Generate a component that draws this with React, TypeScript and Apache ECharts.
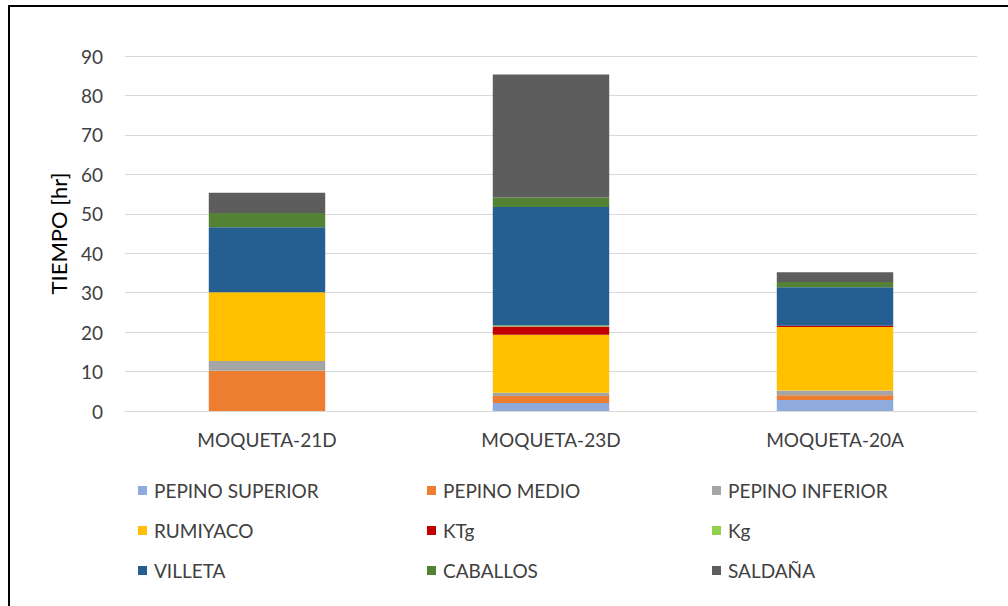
import React, { useEffect, useRef } from "react";
import * as echarts from "echarts";

const categories = ["MOQUETA-21D", "MOQUETA-23D", "MOQUETA-20A"];
const seriesNames = [
  "PEPINO SUPERIOR",
  "PEPINO MEDIO",
  "PEPINO INFERIOR",
  "RUMIYACO",
  "KTg",
  "Kg",
  "VILLETA",
  "CABALLOS",
  "SALDAÑA",
];
const pepinoSuperior = [0, 2.0, 2.8];
const pepinoMedio = [10.2, 1.8, 1.2];
const pepinoInferior = [2.5, 0.8, 1.2];
const rumiyaco = [17.4, 14.7, 16.1];
const ktg = [0, 2.1, 0.3];
const kg = [0, 0.3, 0];
const villeta = [16.5, 30.0, 9.8];
const caballos = [3.6, 2.4, 1.3];
const saldana = [5.1, 31.2, 2.5];
const seriesValues = [pepinoSuperior, pepinoMedio, pepinoInferior, rumiyaco, ktg, kg, villeta, caballos, saldana];
const colors = ["#8faadc", "#ed7d31", "#a5a5a5", "#ffc000", "#c00000", "#92d050", "#255e91", "#548235", "#5d5d5d"];
const yTicks = { min: 0, max: 90, interval: 10 };
const legendColumns = [
  ["PEPINO SUPERIOR", "RUMIYACO", "VILLETA"],
  ["PEPINO MEDIO", "KTg", "CABALLOS"],
  ["PEPINO INFERIOR", "Kg", "SALDAÑA"],
];

const FONT = "Lato, 'Open Sans', sans-serif";

export default function App() {
  const ref = useRef<HTMLDivElement>(null);
  useEffect(() => {
    if (!ref.current) return;
    const chart = echarts.init(ref.current, undefined, { renderer: "svg" });
    const legendLefts = [133, 422, 707];
    chart.setOption({
      animation: false,
      backgroundColor: "#ffffff",
      textStyle: { fontFamily: FONT },
      grid: { left: 125, right: 31, top: 56, bottom: 195 },
      xAxis: {
        type: "category",
        data: categories,
        axisLine: { lineStyle: { color: "#d9d9d9", width: 1 } },
        axisTick: { show: false },
        axisLabel: { color: "#404040", fontSize: 19, margin: 19, fontFamily: FONT },
      },
      yAxis: {
        type: "value",
        min: yTicks.min,
        max: yTicks.max,
        interval: yTicks.interval,
        name: "TIEMPO [hr]",
        nameLocation: "middle",
        nameGap: 56,
        nameTextStyle: { color: "#000000", fontSize: 22, fontFamily: FONT },
        axisLine: { show: false },
        axisTick: { show: false },
        axisLabel: { color: "#404040", fontSize: 19, margin: 22, fontFamily: FONT },
        splitLine: { lineStyle: { color: "#d9d9d9", width: 1 } },
      },
      legend: legendColumns.map((col, i) => ({
        data: col,
        orient: "vertical",
        left: legendLefts[i],
        top: 476,
        icon: "rect",
        itemWidth: 9,
        itemHeight: 9,
        itemGap: 21,
        textStyle: { color: "#404040", fontSize: 19, fontFamily: FONT, padding: [0, 0, 0, 2] },
        selectedMode: false,
      })),
      series: seriesNames.map((name, i) => ({
        name,
        type: "bar",
        stack: "total",
        barWidth: "41%",
        data: seriesValues[i],
        itemStyle: { color: colors[i] },
      })),
      graphic: [
        { type: "line", shape: { x1: 8, y1: 6, x2: 1008, y2: 6 }, style: { stroke: "#000", lineWidth: 2 } },
        { type: "line", shape: { x1: 9, y1: 5, x2: 9, y2: 606 }, style: { stroke: "#000", lineWidth: 2 } },
      ],
    });
    return () => chart.dispose();
  }, []);
  return (
    <div
      ref={ref}
      style={{ position: "fixed", left: 0, top: 0, width: 1008, height: 606 }}
    />
  );
}
